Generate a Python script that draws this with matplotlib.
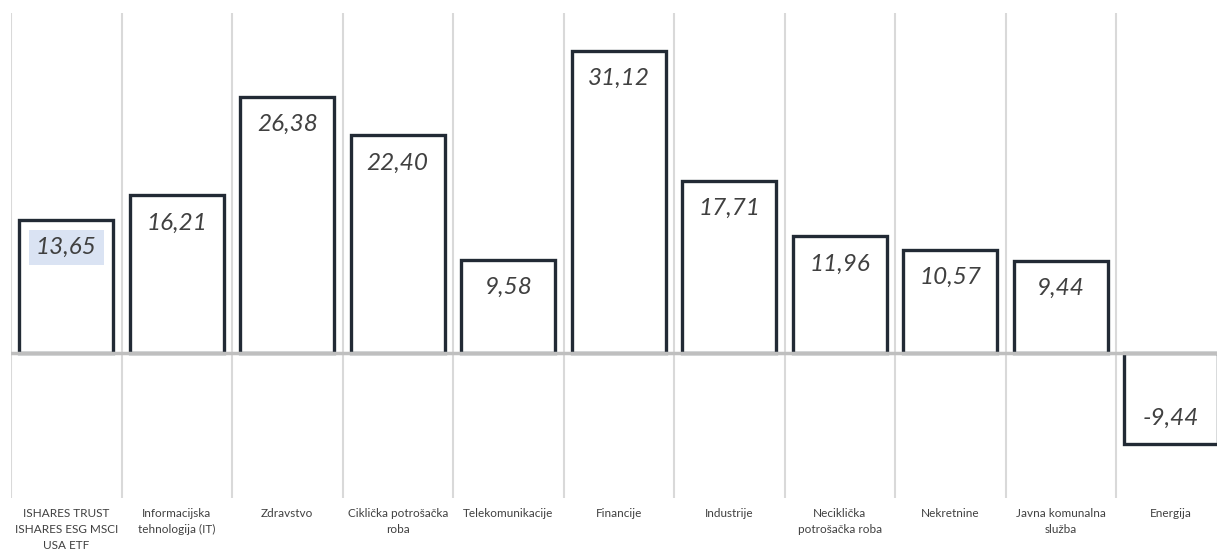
import numpy as np
import matplotlib.pyplot as plt

categories = ['ISHARES TRUST\nISHARES ESG MSCI\nUSA ETF', 'Informacijska\ntehnologija (IT)', 'Zdravstvo',
              'Ciklička potrošačka\nroba', 'Telekomunikacije', 'Financije', 'Industrije',
              'Neciklička\npotrošačka roba', 'Nekretnine', 'Javna komunalna\nslužba', 'Energija']
values = [13.65, 16.21, 26.38, 22.40, 9.58, 31.12, 17.71, 11.96, 10.57, 9.44, -9.44]

fig = plt.figure(figsize=(12.17, 5.53), dpi=100)
# plot area runs a bit past the right edge, like the original
ax = fig.add_axes([11 / 1217, 1 - 498 / 553, 1215.5 / 1217, 485 / 553])

x = np.arange(len(values))
ax.bar(x, values, width=0.85, color='white', edgecolor='#222a35', linewidth=2.4, zorder=3)
ax.axhline(0, color='#bfbfbf', lw=2.5, zorder=4)

ax.set_xlim(-0.5, len(values) - 0.5)
ax.set_ylim(-15, 35)
ax.set_xticks(x)
ax.set_xticklabels(categories, fontsize=8.5, family='Lato', color='#404040', linespacing=1.55)
ax.set_xticks(np.arange(len(values) + 1) - 0.5, minor=True)
ax.tick_params(axis='x', which='both', length=0, pad=7)
ax.grid(axis='x', which='minor', color='#d9d9d9', lw=1.5, zorder=0)
ax.set_yticks([])
for s in ax.spines.values():
    s.set_visible(False)

for i, v in enumerate(values):
    lab = f'{v:.2f}'.replace('.', ',')
    off = -2.85 if v > 0 else 2.7
    kw = {}
    if i == 0:
        kw['bbox'] = dict(facecolor='#dae3f3', edgecolor='none', pad=5)
    ax.text(i, v + off, lab, ha='center', va='center', fontsize=17.5, style='italic',
            family='Lato', color='#404040', zorder=5, **kw)

fig.savefig('out.png', dpi=100)
